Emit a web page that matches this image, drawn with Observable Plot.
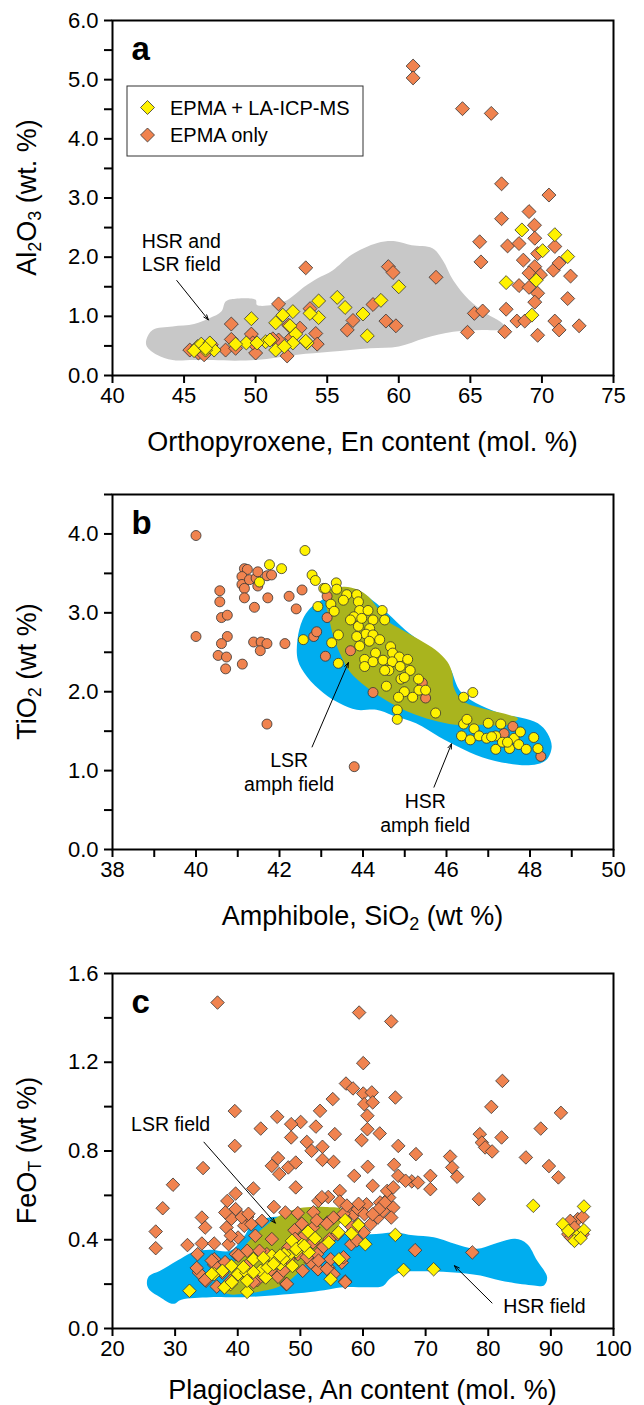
<!DOCTYPE html>
<html>
<head>
<meta charset="utf-8">
<script src="https://cdn.jsdelivr.net/npm/d3@7"></script>
<script src="https://cdn.jsdelivr.net/npm/@observablehq/plot@0.6"></script>
<style>
  body { margin: 0; background: #fff; }
  #fig { width: 644px; }
  #fig svg { display: block; }
</style>
</head>
<body>
<div id="fig"></div>
<script>
// ---------- (a) Orthopyroxene: En content vs Al2O3 ----------
const opxEpmaOnly = [
  [61.0,5.23],[61.0,5.03],[64.45,4.51],[66.46,4.43],[67.18,3.24],[70.49,3.05],[67.18,2.65],[69.1,2.77],
  [69.48,2.54],[65.65,2.26],[67.6,2.19],[68.4,2.23],[69.5,2.32],[69.7,2.06],[70.9,2.18],[68.7,1.95],
  [65.74,1.92],[69.5,1.84],[69.1,1.73],[70.8,1.78],[71.2,1.90],[69.9,1.70],[72.0,1.68],[68.4,1.52],
  [69.1,1.49],[69.7,1.39],[71.8,1.30],[69.5,1.24],[67.5,1.12],[65.28,1.05],[65.86,1.09],[68.25,0.92],
  [68.8,0.92],[70.9,0.92],[71.2,0.77],[72.6,0.84],[67.4,0.74],[69.7,0.68],[64.8,0.73],[62.6,1.66],
  [59.27,1.84],[59.6,1.74],[59.1,0.92],[59.8,0.84],[58.2,1.20],[56.8,0.93],[56.4,0.77],[53.5,1.82],
  [54.2,0.71],[54.3,0.53],[53.1,0.80],[51.6,1.21],[48.3,0.87],[48.3,0.61],[47.9,0.43],[49.7,0.70],
  [50.0,0.38],[52.2,0.33],[45.4,0.43],[48.6,0.46],[49.8,0.55],[52.3,0.85],[51.6,0.60],[46.0,0.38],
  [46.4,0.35],[46.9,0.52],[51.2,0.62],[53.8,1.13],[52.5,0.64]
];
const opxLaIcpms = [
  [68.6,2.46],[70.9,2.38],[70.05,2.11],[71.8,2.01],[67.5,1.57],[69.6,1.61],[69.3,1.02],[60.0,1.50],
  [58.75,1.27],[57.5,1.04],[57.8,0.67],[55.7,1.32],[56.25,1.15],[54.4,1.26],[54.4,0.98],[53.8,1.05],
  [53.6,0.55],[52.6,1.08],[51.9,1.02],[51.4,0.89],[52.4,0.84],[52.8,0.70],[52.6,0.55],[50.7,0.57],
  [51.4,0.43],[52.0,0.49],[49.7,0.96],[49.35,0.55],[50.1,0.55],[48.6,0.53],[47.1,0.43],[46.5,0.43],
  [45.95,0.49],[46.2,0.53],[45.7,0.42],[46.8,0.55],[46.5,0.46],[51.0,0.60],[53.5,0.58]
];
// outline of the HSR + LSR orthopyroxene field
const opxField = [
  [42.36,0.60],[42.8,0.77],[44.2,0.83],[45.7,0.87],[46.8,0.97],[47.6,1.08],[47.9,1.25],[48.3,1.29],
  [50.0,1.28],[50.1,1.19],[52.0,1.25],[53.4,1.50],[54.3,1.64],[55.4,1.78],[56.7,2.04],[58.5,2.24],
  [59.75,2.27],[60.9,2.20],[62.35,2.15],[63.07,1.95],[63.8,1.61],[64.9,1.28],[66.1,1.05],[67.1,0.91],
  [67.5,0.80],[67.1,0.77],[65.8,0.77],[63.8,0.74],[61.8,0.63],[60.0,0.49],[58.0,0.46],[55.2,0.40],
  [52.9,0.35],[50.0,0.26],[45.7,0.26],[44.2,0.26],[43.1,0.35],[42.4,0.49]
];
const opxXTicks = [40, 45, 50, 55, 60, 65, 70, 75];
const opxYTicks = [0, 0.5, 1, 1.5, 2, 2.5, 3, 3.5, 4, 4.5, 5, 5.5, 6];
const opxYLabels = [0, 1, 2, 3, 4, 5, 6];

// ---------- (b) Amphibole: SiO2 vs TiO2 ----------
const amphEpmaOnly = [
  [40.0,3.98],[40.0,2.70],[40.57,3.28],[40.57,3.14],[40.61,2.94],[40.75,2.97],[40.75,2.70],[40.61,2.61],
  [40.53,2.46],[40.73,2.44],[40.71,2.29],[41.11,2.35],[41.16,3.56],[41.23,3.55],[41.1,3.46],[41.1,3.36],
  [41.16,3.31],[41.16,3.19],[41.28,3.42],[41.44,3.44],[41.48,3.52],[41.48,3.34],[41.4,3.07],[41.38,2.63],
  [41.56,2.63],[41.54,2.52],[41.7,2.61],[41.7,3.47],[41.81,3.48],[41.72,3.19],[41.7,1.59],[42.13,2.61],
  [42.54,3.29],[42.23,3.21],[42.4,3.05],[42.82,2.70],[42.89,2.76],[43.1,2.45],[43.14,2.94],[43.7,2.52],
  [44.24,1.99],[43.79,1.05],[45.42,2.11],[45.5,1.92],[47.59,1.56],[48.26,1.18],[47.38,1.47],[43.14,3.21]
];
const amphLaIcpms = [
  [41.76,3.61],[41.52,3.39],[42.61,3.79],[42.05,3.56],[42.78,3.48],[42.86,3.41],[43.06,3.31],[43.1,3.31],
  [43.36,3.38],[43.37,3.30],[43.61,3.23],[43.85,3.23],[43.89,3.14],[43.53,3.16],[43.23,3.11],[43.31,3.02],
  [42.92,3.08],[43.92,3.03],[44.12,3.03],[44.46,3.03],[44.52,2.91],[44.24,2.91],[43.78,2.95],[43.7,2.91],
  [43.89,2.83],[43.97,2.93],[44.16,2.80],[44.07,2.73],[43.85,2.70],[43.92,2.58],[44.24,2.72],[44.4,2.66],
  [44.15,2.64],[44.3,2.49],[44.04,2.41],[44.04,2.32],[44.24,2.38],[44.48,2.40],[44.66,2.57],[44.71,2.49],
  [44.87,2.44],[45.07,2.41],[44.7,2.38],[44.89,2.32],[44.62,2.27],[44.52,2.27],[45.13,2.27],[44.91,2.16],
  [44.99,2.18],[45.33,2.16],[44.56,2.07],[44.99,2.00],[45.34,2.02],[45.5,2.02],[45.19,1.93],[44.85,1.93],
  [44.82,1.77],[44.82,1.65],[45.74,1.73],[43.25,2.62],[42.57,2.66],[43.41,2.72],[43.41,2.36],[46.41,1.93],
  [46.63,1.99],[46.41,1.59],[46.49,1.65],[46.36,1.44],[46.57,1.39],[46.66,1.53],[46.78,1.44],[47.0,1.60],
  [46.96,1.41],[47.18,1.44],[47.18,1.27],[47.3,1.59],[47.34,1.36],[47.51,1.28],[47.62,1.41],[47.73,1.33],
  [47.77,1.49],[47.91,1.27],[48.09,1.42],[48.19,1.28],[47.46,1.36],[47.08,1.43]
];
const amphHsrField = [
  [42.74,3.06],[42.55,2.91],[42.43,2.66],[42.44,2.40],[42.66,2.19],[43.06,1.98],[43.45,1.85],[43.85,1.77],
  [44.32,1.77],[44.71,1.70],[45.27,1.60],[45.82,1.43],[46.29,1.30],[46.85,1.17],[47.48,1.09],[48.03,1.07],
  [48.38,1.13],[48.52,1.30],[48.42,1.47],[48.19,1.60],[47.79,1.67],[47.32,1.72],[46.37,1.98],[46.06,2.32],
  [45.66,2.53],[45.11,2.74],[44.32,3.12],[43.85,3.29],[43.37,3.29],[43.06,3.18]
];
const amphLsrField = [
  [43.14,3.27],[43.53,3.33],[43.89,3.29],[44.12,3.21],[44.32,3.08],[44.56,2.91],[44.95,2.78],[45.35,2.66],
  [45.74,2.53],[46.02,2.38],[46.14,2.23],[46.17,2.06],[46.37,1.89],[46.85,1.79],[47.4,1.72],[47.71,1.66],
  [47.48,1.58],[46.85,1.58],[46.21,1.58],[45.66,1.64],[45.11,1.74],[44.56,1.89],[44.08,2.06],[43.69,2.25],
  [43.49,2.44],[43.29,2.70],[43.18,2.95],[43.1,3.16]
];
const amphXTicks = [38, 39, 40, 41, 42, 43, 44, 45, 46, 47, 48, 49, 50];
const amphXLabels = [38, 40, 42, 44, 46, 48, 50];
const amphYTicks = [0, 0.5, 1, 1.5, 2, 2.5, 3, 3.5, 4, 4.5];
const amphYLabels = [0, 1, 2, 3, 4];

// ---------- (c) Plagioclase: An content vs FeOT ----------
const plagEpmaOnly = [
  [36.77,1.469],[59.38,1.424],[64.51,1.384],[60.04,1.196],[82.26,1.116],[57.28,1.104],[58.4,1.082],[60.04,1.059],
  [61.4,1.064],[55.17,1.034],[65.17,1.041],[60.2,1.011],[61.55,1.019],[60.7,0.959],[80.49,0.999],[91.6,0.972],
  [39.53,0.98],[46.3,0.954],[50.05,0.931],[48.53,0.921],[53.14,0.981],[43.67,0.901],[52.48,0.910],[60.7,0.898],
  [62.67,0.879],[55.5,0.876],[82.13,0.861],[88.38,0.901],[78.65,0.876],[59.78,0.849],[51.03,0.841],[48.53,0.861],
  [39.53,0.823],[65.63,0.823],[78.98,0.838],[79.5,0.816],[80.62,0.798],[68.45,0.786],[51.79,0.801],[53.53,0.819],
  [53.53,0.760],[73.91,0.775],[86.01,0.771],[46.43,0.768],[45.44,0.733],[48.07,0.726],[49.26,0.748],[55.3,0.751],
  [64.97,0.738],[60.76,0.729],[74.24,0.726],[75.03,0.684],[89.69,0.732],[91.2,0.681],[34.46,0.723],[46.63,0.696],
  [29.66,0.648],[49.26,0.636],[42.49,0.631],[58.6,0.688],[65.63,0.688],[67.8,0.663],[66.8,0.666],[70.76,0.688],
  [70.76,0.628],[68.78,0.658],[61.55,0.643],[56.29,0.620],[78.51,0.583],[39.66,0.608],[28.02,0.542],[34.27,0.500],
  [34.8,0.455],[26.9,0.437],[26.9,0.362],[31.97,0.376],[34.27,0.383],[36.24,0.383],[77.46,0.343],[68.32,0.353],
  [57.15,0.212],[47.74,0.2],[38.34,0.575],[39.66,0.538],[41.5,0.503],[41.04,0.463],[43.87,0.485],[45.77,0.548],
  [47.61,0.523],[49.59,0.520],[52.87,0.575],[54.45,0.593],[56.29,0.572],[57.6,0.538],[58.6,0.515],[60.57,0.560],
  [62.74,0.568],[64.18,0.590],[64.84,0.545],[64.51,0.500],[63.85,0.620],[64.84,0.636],[59.19,0.470],[60.11,0.433],
  [58.14,0.380],[38.54,0.380],[40.05,0.410],[38.21,0.455],[39.0,0.495],[38.01,0.523],[42.16,0.470],[42.81,0.418],
  [45.44,0.403],[49.06,0.443],[50.7,0.421],[52.02,0.455],[54.32,0.478],[55.3,0.500],[57.15,0.493],[61.2,0.470],
  [62.38,0.500],[63.2,0.530],[63.5,0.568],[59.19,0.538],[62.54,0.538],[33.58,0.335],[33.78,0.252],[34.92,0.215],
  [36.24,0.312],[38.87,0.215],[42.16,0.252],[43.14,0.218],[45.44,0.282],[48.07,0.312],[49.59,0.335],[51.69,0.297],
  [52.81,0.267],[54.45,0.275],[54.84,0.312],[56.62,0.297],[55.3,0.245],[53.66,0.368],[52.02,0.388],[48.07,0.365],
  [44.65,0.335],[41.5,0.350],[39.72,0.335],[36.24,0.287],[37.55,0.252],[41.37,0.282],[44.13,0.237],[46.43,0.233],
  [50.37,0.260],[52.68,0.335],[54.65,0.403],[55.96,0.425],[58.47,0.440],[60.24,0.515],[61.55,0.515],[49.72,0.365],
  [51.03,0.350],[47.28,0.335],[43.47,0.350],[94.29,0.493],[93.1,0.485],[92.78,0.425],[95.08,0.503],[93.77,0.455],
  [95.08,0.425],[93.23,0.410],[38.89,0.419],[40.64,0.502],[41.71,0.517],[52.1,0.524],[53.43,0.592],[33.45,0.273],
  [35.85,0.306],[34.78,0.219],[36.65,0.189],[37.98,0.299],[40.11,0.329],[42.51,0.209],[47.84,0.201],[49.17,0.404],
  [52.9,0.306],[54.23,0.269],[57.16,0.209],[56.89,0.321],[52.63,0.487],[54.23,0.472],[56.89,0.517],[57.43,0.554],
  [58.22,0.457],[59.29,0.562],[59.02,0.397],[51.03,0.321],[50.23,0.472],[47.3,0.261],[45.17,0.261]
];
const plagLaIcpms = [
  [87.19,0.553],[95.28,0.550],[91.93,0.470],[92.78,0.440],[94.42,0.422],[95.28,0.443],[93.77,0.395],[94.75,0.407],
  [65.17,0.422],[60.37,0.380],[66.48,0.264],[71.28,0.267],[56.16,0.312],[54.84,0.222],[57.15,0.488],[59.26,0.467],
  [58.14,0.428],[56.09,0.433],[54.52,0.388],[51.23,0.436],[52.35,0.407],[50.24,0.377],[51.36,0.343],[48.66,0.395],
  [49.33,0.347],[32.29,0.170],[41.5,0.165],[36.24,0.245],[37.55,0.260],[39.0,0.282],[38.87,0.200],[40.05,0.245],
  [41.37,0.252],[42.49,0.312],[43.67,0.260],[44.46,0.230],[45.44,0.328],[46.76,0.290],[48.07,0.328],[48.73,0.282],
  [47.41,0.335],[41.5,0.215],[44.78,0.275],[46.43,0.312],[37.88,0.185],[49.33,0.358],[50.63,0.373],[39.05,0.209],
  [35.85,0.246],[44.11,0.318],[45.71,0.291],[47.3,0.314],[40.91,0.276],[42.51,0.254],[46.77,0.329]
];
const plagHsrField = [
  [25.5,0.20],[25.8,0.235],[27.6,0.26],[30.3,0.305],[32.9,0.345],[35.6,0.355],[38.8,0.35],[40.9,0.41],
  [42.0,0.46],[43.0,0.48],[45,0.5],[50,0.5],[55,0.46],[58,0.43],[61.2,0.425],[65.2,0.433],[68,0.42],
  [71.3,0.411],[75.5,0.374],[78.2,0.359],[80.9,0.381],[84.3,0.404],[86.2,0.381],[87.8,0.306],[89.4,0.231],
  [88.9,0.194],[87.3,0.194],[81.9,0.216],[78.75,0.239],[73.95,0.254],[68.6,0.258],[66,0.254],[64.2,0.222],
  [63.2,0.192],[59.6,0.186],[56.9,0.186],[51.6,0.164],[40.9,0.141],[35.6,0.141],[31,0.13],[29.7,0.111],
  [27.6,0.141],[26,0.171]
];
const plagLsrField = [
  [37.5,0.17],[38.5,0.24],[40.0,0.33],[42.0,0.40],[44.6,0.465],[46.8,0.51],[49.4,0.54],[51.6,0.548],
  [54,0.548],[56.6,0.54],[57.3,0.515],[56,0.46],[54.6,0.41],[52,0.335],[49.4,0.245],[46.8,0.192],
  [44.1,0.17],[40.8,0.155],[38.5,0.155]
];
const plagXTicks = [20, 30, 40, 50, 60, 70, 80, 90, 100];
const plagYTicks = [0, 0.2, 0.4, 0.6, 0.8, 1.0, 1.2, 1.4, 1.6];
const plagYLabels = [0, 0.4, 0.8, 1.2, 1.6];

// ---------- shared styling ----------
const FONT = "'Liberation Sans', Arial, Helvetica, sans-serif";
const ORANGE = "#F0834F", YELLOW = "#FFF200", EDGE = "#333";
const GRAY_FIELD = "#C8C8C8", BLUE_FIELD = "#00ADEF", OLIVE_FIELD = "#A9B41E";
const W = 644, ML = 112, MR = 31, PLOT_H = 355;

const px = d => d[0], py = d => d[1];

function field(poly, color) {
  return Plot.line(poly, {x: px, y: py, curve: "catmull-rom-closed", fill: color, stroke: "none"});
}
function points(data, fill, symbol, r) {
  return Plot.dot(data, {x: px, y: py, symbol, r, fill, stroke: EDGE, strokeWidth: 0.8});
}
function note(x, y, text, anchor) {
  return Plot.text([{x, y, text}], {x: "x", y: "y", text: "text", textAnchor: anchor,
    lineAnchor: "middle", lineHeight: 1.22, fontSize: 19.5, fill: "#000"});
}
function pointer(x1, y1, x2, y2) {
  return Plot.arrow([{x1, y1, x2, y2}], {x1: "x1", y1: "y1", x2: "x2", y2: "y2",
    stroke: "#000", strokeWidth: 1, headLength: 8, headAngle: 40});
}
function panelLetter(letter) {
  return Plot.text([letter], {frameAnchor: "top-left", dx: 19, dy: 16, lineAnchor: "top",
    fontSize: 33, fontWeight: "bold", fill: "#000"});
}
const fmt1 = labels => d => labels.some(v => Math.abs(v - d) < 1e-9) ? d.toFixed(1) : "";
const fmt0 = labels => d => labels.includes(d) ? String(d) : "";

// text with subscripts: parts are strings or {sub: "..."}
function richText(sel, parts, size) {
  const shift = Math.round(size * 0.28);
  let pending = 0;
  parts.forEach(p => {
    if (typeof p === "string") {
      const t = sel.append("tspan").text(p);
      if (pending) t.attr("dy", pending);
      pending = 0;
    } else {
      sel.append("tspan").attr("font-size", Math.round(size * 0.65)).attr("dy", shift).text(p.sub);
      pending = -shift;
    }
  });
}

function panel({x, y, marginTop, marginBottom, marks, xTitle, yTitle, xTitleOffset}) {
  const height = marginTop + PLOT_H + marginBottom;
  const svg = Plot.plot({
    width: W, height, marginLeft: ML, marginRight: MR, marginTop, marginBottom,
    x: {domain: x.domain}, y: {domain: y.domain},
    style: {fontFamily: FONT, fontSize: "22px", color: "#000", background: "#fff", overflow: "visible"},
    marks: [
      ...marks,
      Plot.frame({stroke: "#000", strokeWidth: 2}),
      Plot.axisX({ticks: x.ticks, tickFormat: x.format, tickSize: 8, tickPadding: 4, strokeWidth: 2, label: null}),
      Plot.axisY({ticks: y.ticks, tickFormat: y.format, tickSize: 8, tickPadding: 6, strokeWidth: 2, label: null})
    ]
  });
  const s = d3.select(svg);
  const cx = ML + (W - ML - MR) / 2;
  const xt = s.append("text").attr("x", cx).attr("y", marginTop + PLOT_H + xTitleOffset)
    .attr("text-anchor", "middle").attr("dominant-baseline", "central")
    .attr("font-family", FONT).attr("font-size", 27).attr("fill", "#000");
  richText(xt, xTitle, 27);
  const yt = s.append("text")
    .attr("transform", `translate(27,${marginTop + PLOT_H / 2}) rotate(-90)`)
    .attr("text-anchor", "middle").attr("dominant-baseline", "central")
    .attr("font-family", FONT).attr("font-size", 27).attr("fill", "#000");
  richText(yt, yTitle, 27);
  return svg;
}

const fig = document.getElementById("fig");

// (a)
const svgA = panel({
  x: {domain: [40, 75], ticks: opxXTicks, format: d => String(d)},
  y: {domain: [0, 6], ticks: opxYTicks, format: fmt1(opxYLabels)},
  marginTop: 20, marginBottom: 95, xTitleOffset: 67,
  xTitle: ["Orthopyroxene, En content (mol. %)"],
  yTitle: ["Al", {sub: "2"}, "O", {sub: "3"}, " (wt. %)"],
  marks: [
    field(opxField, GRAY_FIELD),
    points(opxEpmaOnly, ORANGE, "diamond2", 6.3),
    points(opxLaIcpms, YELLOW, "diamond2", 6.3),
    note(42.04, 2.09, "HSR and\nLSR field", "start"),
    pointer(44.49, 1.606, 46.7, 0.94),
    panelLetter("a")
  ]
});
// legend box
{
  const s = d3.select(svgA);
  const g = s.append("g").attr("font-family", FONT).attr("font-size", 20).attr("fill", "#000")
    .attr("text-anchor", "start");
  g.append("rect").attr("x", 127).attr("y", 86).attr("width", 236).attr("height", 70)
    .attr("fill", "#fff").attr("stroke", EDGE).attr("stroke-width", 1);
  const sym = d3.symbol(d3.symbolDiamond2, Math.PI * 6.3 * 6.3)();
  [["EPMA + LA-ICP-MS", YELLOW, 107.5], ["EPMA only", ORANGE, 135]].forEach(([label, color, yy]) => {
    g.append("path").attr("d", sym).attr("transform", `translate(147.5,${yy})`)
      .attr("fill", color).attr("stroke", EDGE).attr("stroke-width", 0.8);
    g.append("text").attr("x", 170).attr("y", yy).attr("text-anchor", "start")
      .attr("dominant-baseline", "central").text(label);
  });
}
fig.appendChild(svgA);

// (b)
const svgB = panel({
  x: {domain: [38, 50], ticks: amphXTicks, format: fmt0(amphXLabels)},
  y: {domain: [0, 4.5], ticks: amphYTicks, format: fmt1(amphYLabels)},
  marginTop: 24, marginBottom: 95, xTitleOffset: 67,
  xTitle: ["Amphibole, SiO", {sub: "2"}, " (wt %)"],
  yTitle: ["TiO", {sub: "2"}, " (wt %)"],
  marks: [
    field(amphHsrField, BLUE_FIELD),
    field(amphLsrField, OLIVE_FIELD),
    points(amphEpmaOnly, ORANGE, "circle", 5),
    points(amphLaIcpms, YELLOW, "circle", 5),
    note(42.23, 0.99, "LSR\namph field", "middle"),
    pointer(42.78, 1.30, 43.65, 2.37),
    note(45.49, 0.475, "HSR\namph field", "middle"),
    pointer(45.70, 0.79, 46.12, 1.34),
    panelLetter("b")
  ]
});
fig.appendChild(svgB);

// (c)
const svgC = panel({
  x: {domain: [20, 100], ticks: plagXTicks, format: d => String(d)},
  y: {domain: [0, 1.6], ticks: plagYTicks, format: fmt1(plagYLabels)},
  marginTop: 29, marginBottom: 77, xTitleOffset: 62,
  xTitle: ["Plagioclase, An content (mol. %)"],
  yTitle: ["FeO", {sub: "T"}, " (wt %)"],
  marks: [
    field(plagHsrField, BLUE_FIELD),
    field(plagLsrField, OLIVE_FIELD),
    points(plagEpmaOnly, ORANGE, "diamond2", 6.1),
    points(plagLaIcpms, YELLOW, "diamond2", 6.1),
    note(22.96, 0.924, "LSR field", "start"),
    pointer(34.6, 0.84, 46.0, 0.475),
    note(82.4, 0.105, "HSR field", "start"),
    pointer(80.6, 0.115, 74.6, 0.283),
    panelLetter("c")
  ]
});
fig.appendChild(svgC);
</script>
</body>
</html>
